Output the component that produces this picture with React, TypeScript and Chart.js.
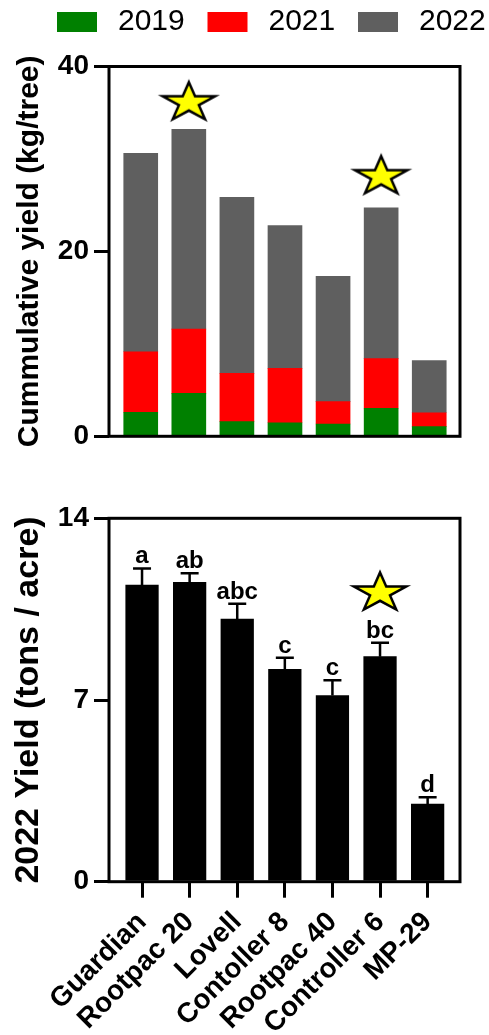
import React, { useEffect, useRef } from "react";
import { Chart, registerables } from "chart.js";

Chart.register(...registerables);

const FONT = '"Liberation Sans", Arial, Helvetica, sans-serif';

const CATEGORIES = ["Guardian", "Rootpac 20", "Lovell", "Contoller 8", "Rootpac 40", "Controller 6", "MP-29"];
const SERIES_LABELS = ["2019", "2021", "2022"];
const SERIES_COLORS = ["#008000", "#ff0000", "#5f5f5f"];
// increments per year (stacked)
const YIELD_2019 = [2.6, 4.65, 1.58, 1.47, 1.33, 3.03, 1.04];
const YIELD_2021 = [6.55, 6.95, 5.22, 5.88, 2.42, 5.37, 1.51];
const YIELD_2022 = [21.45, 21.6, 19.05, 15.45, 13.55, 16.3, 5.63];
const CUM_TICKS = [0, 20, 40];
const STARS_TOP = [
  { x: 1, y: 36.3 },
  { x: 5, y: 28.3 },
];

const TONS_2022 = [11.43, 11.53, 10.12, 8.18, 7.17, 8.67, 2.99];
const TONS_ERR = [0.64, 0.35, 0.59, 0.45, 0.59, 0.54, 0.26];
const LETTERS = ["a", "ab", "abc", "c", "c", "bc", "d"];
const TONS_TICKS = [0, 7, 14];
const STARS_BOTTOM = [{ x: 5, y: 11.2 }];

function pts(values: number[]) {
  return values.map((v, i) => ({ x: i, y: v }));
}

function makeStar(): HTMLCanvasElement {
  const c = document.createElement("canvas");
  c.width = 66;
  c.height = 52;
  const ctx = c.getContext("2d")!;
  const rx = 27.5;
  const ry = 20.5;
  const inner = 0.382;
  const cx = 33;
  const cy = 26 + 0.0955 * ry;
  ctx.beginPath();
  for (let k = 0; k < 10; k++) {
    const a = -Math.PI / 2 + (k * Math.PI) / 5;
    const r = k % 2 === 0 ? 1 : inner;
    const px = cx + Math.cos(a) * rx * r;
    const py = cy + Math.sin(a) * ry * r;
    if (k === 0) ctx.moveTo(px, py);
    else ctx.lineTo(px, py);
  }
  ctx.closePath();
  ctx.fillStyle = "#ffff00";
  ctx.fill();
  ctx.lineWidth = 2.5;
  ctx.lineJoin = "miter";
  ctx.strokeStyle = "#000";
  ctx.stroke();
  return c;
}

const framePlugin = {
  id: "frame",
  afterDatasetsDraw(chart: any) {
    const { left, top, right, bottom } = chart.chartArea;
    const ctx = chart.ctx;
    ctx.save();
    ctx.strokeStyle = "#000";
    ctx.lineWidth = 3;
    ctx.strokeRect(left, top, right - left, bottom - top);
    ctx.restore();
  },
};

const legendPlugin = {
  id: "customLegend",
  afterDraw(chart: any) {
    const ctx = chart.ctx;
    ctx.save();
    ctx.font = `30px ${FONT}`;
    ctx.textBaseline = "middle";
    ctx.textAlign = "left";
    let k = 0;
    chart.data.datasets.forEach((ds: any) => {
      if (ds.type === "scatter") return;
      const x = 57 + k * 150.5;
      ctx.fillStyle = ds.backgroundColor;
      ctx.fillRect(x, 12, 40, 20);
      ctx.fillStyle = "#000";
      ctx.fillText(ds.label, x + 61, 22);
      k++;
    });
    ctx.restore();
  },
};

const errorPlugin = {
  id: "errbars",
  afterDatasetsDraw(chart: any) {
    const meta = chart.getDatasetMeta(0);
    const y = chart.scales.y;
    const ctx = chart.ctx;
    ctx.save();
    ctx.strokeStyle = "#000";
    ctx.fillStyle = "#000";
    ctx.lineWidth = 2.5;
    ctx.font = `bold 24px ${FONT}`;
    ctx.textAlign = "center";
    ctx.textBaseline = "alphabetic";
    meta.data.forEach((bar: any, i: number) => {
      const top = y.getPixelForValue(TONS_2022[i]);
      const cap = y.getPixelForValue(TONS_2022[i] + TONS_ERR[i]);
      ctx.beginPath();
      ctx.moveTo(bar.x, top);
      ctx.lineTo(bar.x, cap);
      ctx.moveTo(bar.x - 9, cap);
      ctx.lineTo(bar.x + 9, cap);
      ctx.stroke();
      ctx.fillText(LETTERS[i], bar.x, cap - 5);
    });
    ctx.restore();
  },
};

export default function App() {
  const topRef = useRef<HTMLCanvasElement>(null);
  const botRef = useRef<HTMLCanvasElement>(null);

  useEffect(() => {
    document.body.style.margin = "0";
    Chart.defaults.font.family = FONT;
    const star = makeStar();

    const yAxisCommon = (ticks: number[], title: string, titleSize: number, titlePad: number) => ({
      min: ticks[0],
      max: ticks[ticks.length - 1],
      afterBuildTicks: (s: any) => {
        s.ticks = ticks.map((v) => ({ value: v }));
      },
      afterFit: (s: any) => {
        s.width = 109;
      },
      grid: { drawOnChartArea: false, color: "#000", lineWidth: 3, tickLength: 15 },
      border: { display: false },
      ticks: { color: "#000", padding: 5, font: { size: 28, weight: "bold" } },
      title: {
        display: true,
        text: title,
        color: "#000",
        font: { size: titleSize, weight: "bold" },
        padding: { top: titlePad, bottom: 0 },
      },
    });

    const top = new Chart(topRef.current!, {
      type: "bar",
      data: {
        datasets: [
          { label: SERIES_LABELS[0], data: pts(YIELD_2019), backgroundColor: SERIES_COLORS[0], barThickness: 34 },
          { label: SERIES_LABELS[1], data: pts(YIELD_2021), backgroundColor: SERIES_COLORS[1], barThickness: 34 },
          { label: SERIES_LABELS[2], data: pts(YIELD_2022), backgroundColor: SERIES_COLORS[2], barThickness: 34 },
          { type: "scatter", label: "star", data: STARS_TOP, pointStyle: star, pointRadius: 28, stack: "stars" } as any,
        ],
      },
      options: {
        animation: false,
        responsive: false,
        layout: { padding: { top: 66.5, bottom: 33.7, right: 12.5, left: 0 } },
        plugins: { legend: { display: false }, tooltip: { enabled: false } },
        scales: {
          x: {
            type: "linear",
            display: false,
            offset: false,
            grid: { offset: false },
            min: -0.66,
            max: 6.64,
            stacked: true,
          } as any,
          y: { stacked: true, ...yAxisCommon(CUM_TICKS, "Cummulative yield (kg/tree)", 30, 12) } as any,
        },
      },
      plugins: [framePlugin, legendPlugin],
    });

    const bottom = new Chart(botRef.current!, {
      type: "bar",
      data: {
        datasets: [
          { label: "2022 Yield", data: pts(TONS_2022), backgroundColor: "#000", barThickness: 32.6 },
          { type: "scatter", label: "star", data: STARS_BOTTOM, pointStyle: star, pointRadius: 28 } as any,
        ],
      },
      options: {
        animation: false,
        responsive: false,
        layout: { padding: { top: 48.3, bottom: 0, right: 15.5, left: 0 } },
        plugins: { legend: { display: false }, tooltip: { enabled: false } },
        scales: {
          x: {
            type: "linear",
            offset: false,
            min: -0.694,
            max: 6.68,
            afterBuildTicks: (s: any) => {
              s.ticks = CATEGORIES.map((_, i) => ({ value: i }));
            },
            afterFit: (s: any) => {
              s.height = 153.3;
            },
            grid: { offset: false, drawOnChartArea: false, color: "#000", lineWidth: 3, tickLength: 16 },
            border: { display: false },
            ticks: {
              autoSkip: false,
              minRotation: 45,
              maxRotation: 45,
              padding: 8,
              color: "#000",
              font: { size: 28, weight: "bold" },
              callback: (v: any) => CATEGORIES[v] ?? "",
            },
          } as any,
          y: yAxisCommon(TONS_TICKS, "2022 Yield (tons / acre)", 34, 8) as any,
        },
      },
      plugins: [errorPlugin, framePlugin],
    });

    return () => {
      top.destroy();
      bottom.destroy();
    };
  }, []);

  return (
    <div style={{ width: 489, height: 1035 }}>
      <canvas ref={topRef} width={489} height={470} style={{ display: "block" }} />
      <canvas ref={botRef} width={489} height={565} style={{ display: "block" }} />
    </div>
  );
}
